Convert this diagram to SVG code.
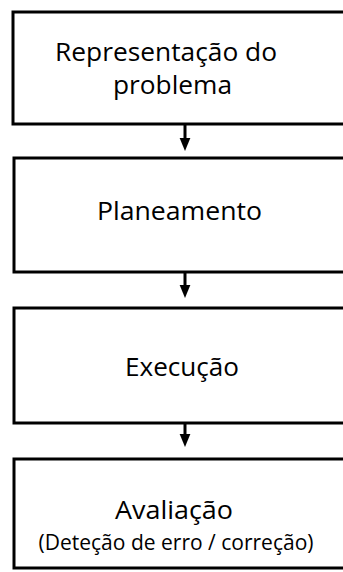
<svg xmlns="http://www.w3.org/2000/svg" width="343" height="572" viewBox="0 0 343 572">
<style>
.box{fill:#fff;stroke:#000;stroke-width:3}
.t{font-family:"Open Sans","Liberation Sans",sans-serif;fill:#000;text-anchor:middle}
.big{font-size:26px}
.small{font-size:22px}
.shaft{stroke:#000;stroke-width:3}
</style>
<defs>
<marker id="ah" markerWidth="4.5" markerHeight="3.7" refX="0.5" refY="1.85" orient="auto" markerUnits="strokeWidth">
<path d="M0,0 L4.5,1.85 L0,3.7 Z" fill="#000"/>
</marker>
</defs>
<rect width="343" height="572" fill="#fff"/>
<g id="connectors">
<line class="shaft" x1="185" y1="125" x2="185" y2="139" marker-end="url(#ah)"/>
<line class="shaft" x1="185" y1="273" x2="185" y2="286" marker-end="url(#ah)"/>
<line class="shaft" x1="185" y1="424" x2="185" y2="435" marker-end="url(#ah)"/>
</g>
<g id="node-representacao">
<rect class="box" x="13" y="12" width="360" height="112"/>
<text class="t big" x="166" y="60.5" textLength="222" lengthAdjust="spacingAndGlyphs">Representação do</text>
<text class="t big" x="172.5" y="94" textLength="119" lengthAdjust="spacingAndGlyphs">problema</text>
</g>
<g id="node-planeamento">
<rect class="box" x="14" y="158" width="360" height="114"/>
<text class="t big" x="179.5" y="220" textLength="165" lengthAdjust="spacingAndGlyphs">Planeamento</text>
</g>
<g id="node-execucao">
<rect class="box" x="14" y="308" width="360" height="115"/>
<text class="t big" x="182" y="376" textLength="114" lengthAdjust="spacingAndGlyphs">Execução</text>
</g>
<g id="node-avaliacao">
<rect class="box" x="14" y="459" width="360" height="109"/>
<text class="t big" x="174" y="519" textLength="118" lengthAdjust="spacingAndGlyphs">Avaliação</text>
<text class="t small" x="176" y="550" textLength="275" lengthAdjust="spacingAndGlyphs">(Deteção de erro / correção)</text>
</g>
</svg>
